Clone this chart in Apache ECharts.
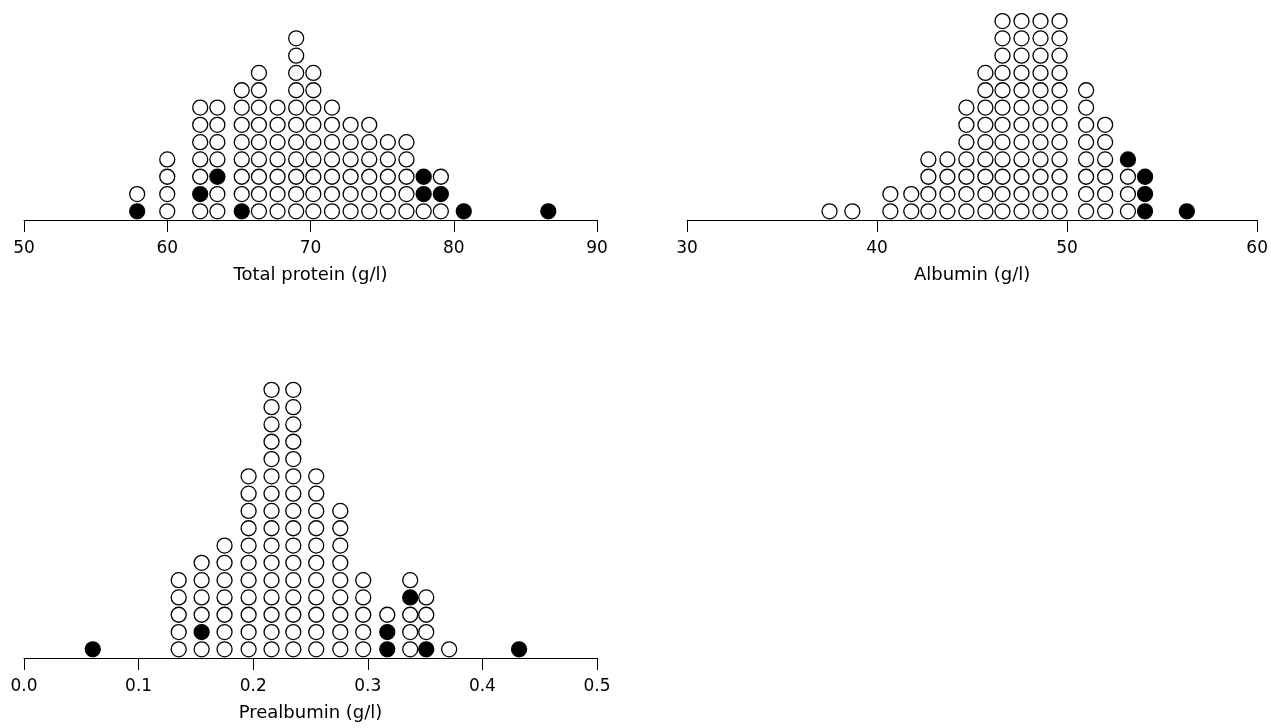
<!DOCTYPE html>
<html>
<head>
<meta charset="utf-8">
<script src="https://cdn.jsdelivr.net/npm/echarts@6/dist/echarts.min.js"></script>
<style>html,body{margin:0;padding:0;background:#fff;}#c{width:1271px;height:728px;}</style>
</head>
<body>
<div id="c"></div>
<script>
// Total protein (g/l)
var tpValues = [57.9, 60.0, 62.3, 63.5, 65.2, 66.4, 67.7, 69.0, 70.2, 71.5, 72.8, 74.1, 75.4, 76.7, 77.9, 79.1, 80.7, 86.6];
var tpCounts = [2, 4, 7, 7, 8, 9, 7, 11, 9, 7, 6, 6, 5, 5, 3, 3, 1, 1];
var tpFilled = [[0], [], [1], [2], [0], [], [], [], [], [], [], [], [], [], [1, 2], [1], [0], [0]];
var tpTicks = [50, 60, 70, 80, 90];

// Albumin (g/l)
var alValues = [37.5, 38.7, 40.7, 41.8, 42.7, 43.7, 44.7, 45.7, 46.6, 47.6, 48.6, 49.6, 51.0, 52.0, 53.2, 54.1, 56.3];
var alCounts = [1, 1, 2, 2, 4, 4, 7, 9, 12, 12, 12, 12, 8, 6, 4, 3, 1];
var alFilled = [[], [], [], [], [], [], [], [], [], [], [], [], [], [], [3], [0, 1, 2], [0]];
var alTicks = [30, 40, 50, 60];

// Prealbumin (g/l)
var paValues = [0.060, 0.135, 0.155, 0.175, 0.196, 0.216, 0.235, 0.255, 0.276, 0.296, 0.317, 0.337, 0.351, 0.371, 0.432];
var paCounts = [1, 5, 6, 7, 11, 16, 16, 11, 9, 5, 3, 5, 4, 1, 1];
var paFilled = [[0], [], [1], [], [], [], [], [], [], [], [0, 1], [3], [0], [], [0]];
var paTicks = [0.0, 0.1, 0.2, 0.3, 0.4, 0.5];

var ROW = 17.3;
var FONT = 'DejaVu Sans';

function buildData(values, counts, filled) {
  var open = [], solid = [];
  for (var i = 0; i < values.length; i++) {
    for (var k = 0; k < counts[i]; k++) {
      var pt = [values[i], k + 0.5];
      if (filled[i].indexOf(k) >= 0) solid.push(pt); else open.push(pt);
    }
  }
  return {open: open, solid: solid};
}

var panels = [
  {v: tpValues, c: tpCounts, f: tpFilled, t: tpTicks, name: 'Total protein (g/l)', left: 24, bottom: 220, rows: 12, dec: 0},
  {v: alValues, c: alCounts, f: alFilled, t: alTicks, name: 'Albumin (g/l)', left: 687, bottom: 220, rows: 12, dec: 0},
  {v: paValues, c: paCounts, f: paFilled, t: paTicks, name: 'Prealbumin (g/l)', left: 24, bottom: 658, rows: 17, dec: 1}
];

var grids = [], xAxes = [], yAxes = [], series = [];
panels.forEach(function (p, i) {
  var h = p.rows * ROW;
  grids.push({left: p.left, width: 573, top: p.bottom - h, height: h});
  var tmin = p.t[0], tmax = p.t[p.t.length - 1];
  xAxes.push({
    type: 'value', gridIndex: i, min: tmin, max: tmax, interval: p.t[1] - p.t[0],
    name: p.name, nameLocation: 'middle', nameGap: 46,
    nameTextStyle: {fontFamily: FONT, fontSize: 18, color: '#000'},
    axisLine: {show: true, onZero: false, lineStyle: {color: '#000', width: 1}},
    axisTick: {show: true, length: 12, lineStyle: {color: '#000', width: 1}},
    axisLabel: {fontFamily: FONT, fontSize: 17, color: '#000', margin: 20,
      formatter: (function (d) { return function (val) { return val.toFixed(d); }; })(p.dec)},
    splitLine: {show: false}
  });
  yAxes.push({type: 'value', gridIndex: i, min: 0, max: p.rows, show: false});
  var d = buildData(p.v, p.c, p.f);
  series.push({
    type: 'scatter', xAxisIndex: i, yAxisIndex: i, data: d.open, symbol: 'circle', symbolSize: 15,
    itemStyle: {color: '#fff', borderColor: '#000', borderWidth: 1.3, opacity: 1}, silent: true, clip: false
  });
  series.push({
    type: 'scatter', xAxisIndex: i, yAxisIndex: i, data: d.solid, symbol: 'circle', symbolSize: 15,
    itemStyle: {color: '#000', borderColor: '#000', borderWidth: 1.3, opacity: 1}, silent: true, clip: false
  });
});

var chart = echarts.init(document.getElementById('c'));
chart.setOption({
  animation: false,
  backgroundColor: '#fff',
  grid: grids,
  xAxis: xAxes,
  yAxis: yAxes,
  series: series
});
</script>
</body>
</html>
